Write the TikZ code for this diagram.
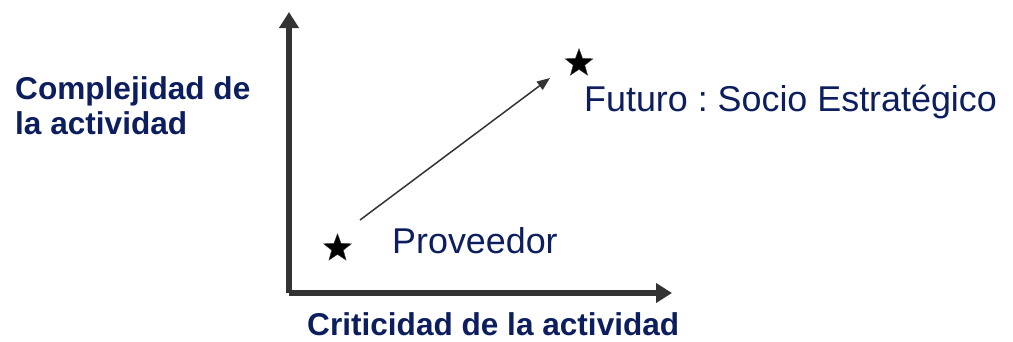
\documentclass[tikz,border=0pt]{standalone}
\usepackage{fontspec}
\setmainfont{Liberation Sans}
\usetikzlibrary{arrows.meta, shapes.geometric}
\definecolor{navy}{RGB}{12,30,94}
\definecolor{axisgray}{RGB}{51,51,51}
\frenchspacing

\begin{document}
\begin{tikzpicture}[x = 1bp, y = -1bp,
	axis/.style = {draw = axisgray, line width = 6bp, -{Triangle[length = 16bp, width = 19bp]}},
	trend/.style = {draw = axisgray, line width = 1.5bp, -{Triangle[length = 13bp, width = 10bp]}},
	mark star/.style = {star, star points = 5, star point ratio = 2.4, fill = black, draw = axisgray, line width = 0.5bp, minimum size = 29bp, inner sep = 0pt},
	boldlabel/.style = {text = navy, inner sep = 0pt, font = \bfseries\fontsize{31.7}{36}\selectfont},
	plainlabel/.style = {text = navy, inner sep = 0pt, font = \fontsize{36}{40}\selectfont}]

	\useasboundingbox (0,0) rectangle (1013,341);

	\coordinate (o) at (289,293);
	\coordinate (ytip) at (289,12);
	\coordinate (xtip) at (672,293);
	\draw [axis](o)--(ytip);
	\draw [axis](o)--(xtip);

	\node (ylabel)[boldlabel, anchor = north west, align = left] at (15,76) {
		Complejidad de\\
		la actividad};
	\node (xlabel)[boldlabel, anchor = base west] at (307,335) {Criticidad de la actividad};

	\node (now)[mark star] at (337.5,248.3) {};
	\node (future)[mark star] at (579,63.3) {};
	\node (nowtext)[plainlabel, anchor = base west] at (392,253) {Proveedor};
	\node (futuretext)[plainlabel, anchor = base west] at (584,111) {Futuro : Socio Estratégico};

	\coordinate (from) at (360,220);
	\coordinate (to) at (550,78);
	\draw [trend](from)--(to);
\end{tikzpicture}
\end{document}
